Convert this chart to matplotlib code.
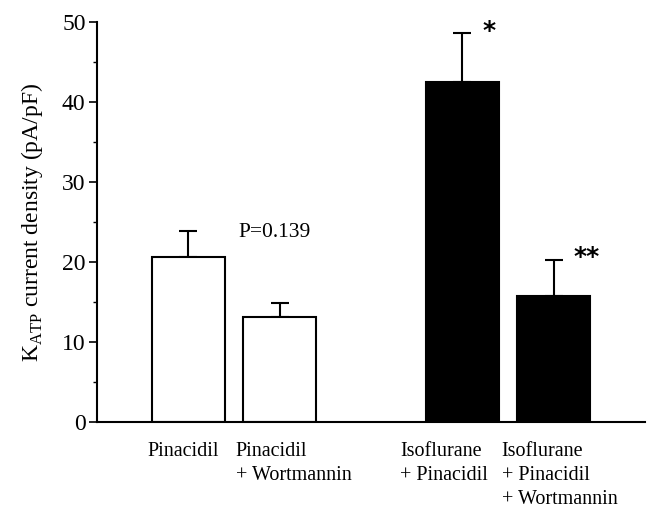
import matplotlib
matplotlib.use("Agg")
import matplotlib.pyplot as plt
from matplotlib.ticker import MultipleLocator
import matplotlib.transforms as mtransforms

categories = ["Pinacidil", "Pinacidil\n+ Wortmannin", "Isoflurane\n+ Pinacidil",
              "Isoflurane\n+ Pinacidil\n+ Wortmannin"]
positions = [0, 1, 3, 4]
means = [20.6, 13.1, 42.5, 15.8]
sems = [3.3, 1.75, 6.1, 4.5]
colors = ["white", "white", "black", "black"]
label_offsets = [-0.45, -0.48, -0.68, -0.57]
marks = ["", "", "*", "**"]

plt.rcParams["font.family"] = ["Liberation Serif", "DejaVu Serif"]

fig = plt.figure(figsize=(6.47, 5.11), dpi=100)
ax = fig.add_axes([0.1495, 0.1736, 0.8475, 0.7839])

ax.bar(positions, means, width=0.8, color=colors, edgecolor="black", linewidth=1.5, zorder=2)
ax.errorbar(positions, means, yerr=[[0] * len(sems), sems], fmt="none", ecolor="black",
            elinewidth=1.5, capsize=6.5, capthick=1.5, zorder=1)

ax.set_xlim(-1, 5)
ax.set_ylim(0, 50)
ax.yaxis.set_major_locator(MultipleLocator(10))
ax.yaxis.set_minor_locator(MultipleLocator(5))
ax.tick_params(axis="y", which="major", length=6, width=1.2, direction="out", labelsize=17, pad=2)
ax.tick_params(axis="y", which="minor", length=3, width=1.0, direction="out")
ax.set_xticks([])
for s in ["top", "right"]:
    ax.spines[s].set_visible(False)
ax.spines["left"].set_linewidth(1.5)
ax.spines["bottom"].set_linewidth(1.5)

ax.set_ylabel(r"K$_{\mathregular{ATP}}$ current density (pA/pF)", fontsize=17, labelpad=12)

trans = mtransforms.blended_transform_factory(ax.transData, ax.transAxes)
for p, lab, off in zip(positions, categories, label_offsets):
    ax.text(p + off, -0.05, lab, transform=trans, ha="left", va="top",
            fontsize=14.5, multialignment="left", linespacing=1.35)

for p, m, s, mk in zip(positions, means, sems, marks):
    if mk:
        ax.text(p + 0.22, m + s + 0.3, mk, ha="left", va="center", fontsize=18,
                family="DejaVu Sans", fontweight="bold")

ax.text(0.55, 23.7, "P=0.139", ha="left", va="center", fontsize=15.5)

fig.savefig("out.png", dpi=100)
